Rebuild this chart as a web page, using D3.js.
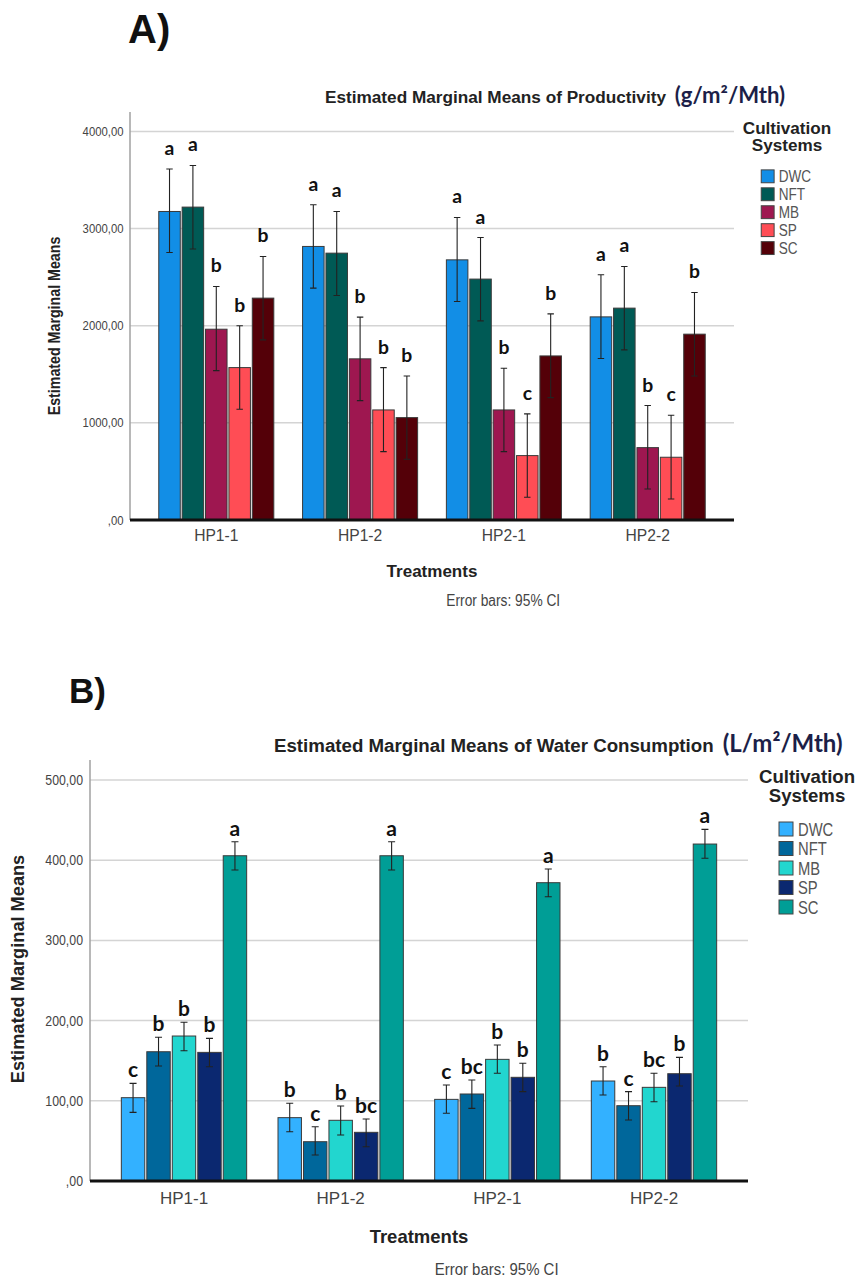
<!DOCTYPE html>
<html>
<head>
<meta charset="utf-8">
<script src="https://cdn.jsdelivr.net/npm/d3@7/dist/d3.min.js"></script>
<style>
  body { margin: 0; background: #fff; }
  svg { display: block; }
  text { font-family: "Liberation Sans", Arial, sans-serif; }
  .letter { font-family: Lato, "Open Sans", sans-serif; font-weight: 700; }
</style>
</head>
<body>
<svg id="chart" width="858" height="1279"></svg>
<script>
// treatments and systems
const treatments = ['HP1-1', 'HP1-2', 'HP2-1', 'HP2-2']
const systems = ['DWC', 'NFT', 'MB', 'SP', 'SC']

// A) productivity (g/m2/Mth), one array per system over treatments
const prodDWC = [3176, 2816, 2678, 2091]
const prodNFT = [3221, 2747, 2480, 2181]
const prodMB = [1964, 1659, 1133, 745]
const prodSP = [1569, 1133, 663, 646]
const prodSC = [2284, 1054, 1689, 1913]
// 95% CI upper / lower
const prodHi = [[3613, 3245, 3114, 2524], [3650, 3176, 2908, 2610], [2404, 2088, 1562, 1178], [1999, 1569, 1092, 1079], [2713, 1483, 2122, 2342]]
const prodLo = [[2754, 2387, 2249, 1662], [2789, 2311, 2050, 1751], [1538, 1229, 704, 319], [1140, 704, 234, 216], [1854, 625, 1260, 1483]]
const prodLetters = [['a', 'a', 'a', 'a'], ['a', 'a', 'a', 'a'], ['b', 'b', 'b', 'b'], ['b', 'b', 'c', 'c'], ['b', 'b', 'b', 'b']]
const prodTicks = [0, 1000, 2000, 3000, 4000]

// B) water consumption (L/m2/Mth)
const waterDWC = [103.9, 79, 101.8, 124.7]
const waterNFT = [161.2, 49, 108.5, 93.9]
const waterMB = [180.8, 75.7, 151.7, 116.8]
const waterSP = [160.4, 60.7, 129.3, 133.8]
const waterSC = [405.6, 405.6, 372, 420.2]
const waterHi = [[121.8, 96.9, 119.7, 142.5], [179.2, 67.7, 125.9, 111.4], [197.9, 93.5, 169.6, 134.3], [177.9, 77.3, 146.8, 154.2], [423, 423, 389, 438.5]]
const waterLo = [[85.6, 61.5, 84.4, 107.2], [143.4, 32.4, 90.6, 76.1], [162.5, 57.4, 134.3, 98.9], [142.5, 42.8, 111.4, 118.5], [387.8, 387.8, 354.5, 402.4]]
const waterLetters = [['c', 'b', 'c', 'b'], ['b', 'c', 'bc', 'c'], ['b', 'b', 'b', 'bc'], ['b', 'bc', 'b', 'b'], ['a', 'a', 'a', 'a']]
const waterTicks = [0, 100, 200, 300, 400, 500]

const svg = d3.select('#chart')

function fmt(v) {
  return v === 0 ? ',00' : v + ',00'
}

// squeeze a text horizontally (the original uses a narrow face)
function narrow(sel, f) {
  sel.each(function() {
    var w = this.getComputedTextLength()
    this.setAttribute('textLength', w * (f || 0.82))
    this.setAttribute('lengthAdjust', 'spacingAndGlyphs')
  })
}

function drawPanel(p) {
  var g = svg.append('g')
  var s = p.k // font scale of the panel

  var x0 = d3.scaleBand().domain(treatments).range([p.left, p.right]).paddingInner(0.2).paddingOuter(0.2)
  var x1 = d3.scaleBand().domain(systems).range([0, x0.bandwidth()]).paddingInner(0.08)
  var y = d3.scaleLinear().domain([0, p.max]).range([p.bottom, p.top])
  var color = d3.scaleOrdinal().domain(systems).range(p.colors)

  // panel letter
  g.append('text')
    .attr('x', p.tagX).attr('y', p.tagY)
    .attr('font-family', 'Lato, sans-serif')
    .attr('font-weight', 900)
    .attr('font-size', p.tagSize)
    .attr('fill', '#111')
    .text(p.tag)

  // title + unit
  var title = g.append('text')
    .attr('x', p.titleX).attr('y', p.titleY)
  title.append('tspan')
    .attr('font-weight', 'bold')
    .attr('font-size', 18.7 * s)
    .attr('fill', '#222')
    .text(p.title + ' ')
  title.append('tspan')
    .attr('dx', 4)
    .attr('font-family', 'Lato, sans-serif')
    .attr('font-weight', 700)
    .attr('font-size', 24 * s)
    .attr('fill', '#1c1f48')
    .text(p.unit)

  // grid
  g.append('g')
    .selectAll('line')
    .data(p.ticks.filter(function(t) { return t > 0 }))
    .enter()
    .append('line')
    .attr('x1', p.left).attr('x2', p.right)
    .attr('y1', function(d) { return y(d) }).attr('y2', function(d) { return y(d) })
    .attr('stroke', '#d4d4d4')
    .attr('stroke-width', 1.5)

  // y axis
  var yAxis = g.append('g')
    .attr('transform', 'translate(' + p.left + ',0)')
    .call(d3.axisLeft(y).tickValues(p.ticks).tickFormat(fmt).tickSize(0).tickPadding(7 * s))
  yAxis.select('.domain').remove()
  yAxis.selectAll('text')
    .attr('font-family', '"Liberation Sans", Arial, sans-serif')
    .attr('font-size', 14 * s)
    .attr('fill', '#444')
    .call(narrow, 0.88)
  g.append('line')
    .attr('x1', p.left).attr('x2', p.left)
    .attr('y1', p.top).attr('y2', p.bottom)
    .attr('stroke', '#a0a0a0')
    .attr('stroke-width', 1.5)

  // bars
  var groups = g.append('g')
    .selectAll('g')
    .data(treatments)
    .enter()
    .append('g')
    .attr('transform', function(d) { return 'translate(' + x0(d) + ',0)' })

  var cells = groups.selectAll('g')
    .data(function(t, ti) {
      return systems.map(function(sys, si) {
        return { sys: sys, v: p.values[si][ti], hi: p.hi[si][ti], lo: p.lo[si][ti], letter: p.letters[si][ti] }
      })
    })
    .enter()
    .append('g')

  cells.append('rect')
    .attr('x', function(d) { return x1(d.sys) })
    .attr('y', function(d) { return y(d.v) })
    .attr('width', x1.bandwidth())
    .attr('height', function(d) { return y(0) - y(d.v) })
    .attr('fill', function(d) { return color(d.sys) })
    .attr('stroke', '#3a3a3a')
    .attr('stroke-width', 1)

  var cap = 3.5 * s
  cells.append('path')
    .attr('d', function(d) {
      var cx = x1(d.sys) + x1.bandwidth() / 2
      return 'M' + cx + ',' + y(d.hi) + 'V' + y(d.lo) +
        'M' + (cx - cap) + ',' + y(d.hi) + 'H' + (cx + cap) +
        'M' + (cx - cap) + ',' + y(d.lo) + 'H' + (cx + cap)
    })
    .attr('fill', 'none')
    .attr('stroke', '#222')
    .attr('stroke-width', 1.1)

  cells.append('text')
    .attr('class', 'letter')
    .attr('x', function(d) { return x1(d.sys) + x1.bandwidth() / 2 })
    .attr('y', function(d) { return y(d.hi) - p.letterGap })
    .attr('text-anchor', 'middle')
    .attr('font-size', 21 * s)
    .attr('fill', '#111')
    .text(function(d) { return d.letter })

  // baseline
  g.append('line')
    .attr('x1', p.left).attr('x2', p.right)
    .attr('y1', y(0)).attr('y2', y(0))
    .attr('stroke', '#111')
    .attr('stroke-width', 3)

  // x labels
  g.append('g')
    .selectAll('text')
    .data(treatments)
    .enter()
    .append('text')
    .attr('x', function(d) { return x0(d) + x0.bandwidth() / 2 })
    .attr('y', y(0) + 23 * s)
    .attr('text-anchor', 'middle')
    .attr('font-size', 17 * s)
    .attr('fill', '#444')
    .text(function(d) { return d })

  var mid = (p.left + p.right) / 2
  g.append('text')
    .attr('x', mid).attr('y', y(0) + 62 * s)
    .attr('text-anchor', 'middle')
    .attr('font-weight', 'bold')
    .attr('font-size', 18.5 * s)
    .attr('fill', '#222')
    .text('Treatments')

  g.append('text')
    .attr('x', mid + 0.118 * (p.right - p.left)).attr('y', y(0) + 94 * s)
    .attr('text-anchor', 'middle')
    .attr('font-size', 17 * s)
    .attr('fill', '#444')
    .text('Error bars: 95% CI')
    .call(narrow, 0.88)

  // y label
  var yl = g.append('text')
    .attr('transform', 'translate(' + p.yLabelX + ',' + p.yLabelY + ') rotate(-90)')
    .attr('text-anchor', 'middle')
    .attr('font-weight', 'bold')
    .attr('font-size', 18.2 * s)
    .attr('fill', '#222')
    .text('Estimated Marginal Means')
  if (p.yNarrow) yl.call(narrow, 0.85)

  // legend
  var lg = g.append('g').attr('transform', 'translate(' + p.legX + ',' + p.legY + ')')
  lg.append('text')
    .attr('x', 0).attr('y', 0)
    .attr('text-anchor', 'middle')
    .attr('font-weight', 'bold')
    .attr('font-size', 18.6 * s)
    .attr('fill', '#222')
    .selectAll('tspan')
    .data(['Cultivation', 'Systems'])
    .enter()
    .append('tspan')
    .attr('x', 0)
    .attr('dy', function(d, i) { return i === 0 ? 0 : 19 * s })
    .text(function(d) { return d })

  var item = lg.selectAll('.item')
    .data(systems)
    .enter()
    .append('g')
    .attr('class', 'item')
    .attr('transform', function(d, i) { return 'translate(' + (-28 * s) + ',' + (46 * s + i * 19.5 * s) + ')' })
  item.append('rect')
    .attr('x', 0).attr('y', -7 * s)
    .attr('width', 14 * s).attr('height', 14 * s)
    .attr('fill', function(d) { return color(d) })
    .attr('stroke', '#444')
    .attr('stroke-width', 1)
  item.append('text')
    .attr('x', 19 * s).attr('y', 6.5 * s)
    .attr('font-size', 18 * s)
    .attr('fill', '#555')
    .text(function(d) { return d })
    .call(narrow)
}

drawPanel({
  k: 0.92,
  tag: 'A)', tagX: 128, tagY: 43, tagSize: 40,
  title: 'Estimated Marginal Means of Productivity', unit: '(g/m\u00b2/Mth)', titleX: 325, titleY: 103,
  left: 130, right: 734, top: 112, bottom: 520, max: 4200,
  ticks: prodTicks,
  values: [prodDWC, prodNFT, prodMB, prodSP, prodSC], hi: prodHi, lo: prodLo, letters: prodLetters,
  colors: ['#128ee6', '#005a55', '#9e1750', '#ff4d55', '#540008'],
  letterGap: 14,
  yLabelX: 60, yLabelY: 326, yNarrow: true,
  legX: 787, legY: 134
})

drawPanel({
  k: 1,
  tag: 'B)', tagX: 69, tagY: 703, tagSize: 35,
  title: 'Estimated Marginal Means of Water Consumption', unit: '(L/m\u00b2/Mth)', titleX: 274, titleY: 752,
  left: 90, right: 748, top: 760, bottom: 1181, max: 525,
  ticks: waterTicks,
  values: [waterDWC, waterNFT, waterMB, waterSP, waterSC], hi: waterHi, lo: waterLo, letters: waterLetters,
  colors: ['#33b1ff', '#00679b', '#22d6cf', '#0b2870', '#009e96'],
  letterGap: 6,
  yLabelX: 24, yLabelY: 969, yNarrow: false,
  legX: 807, legY: 783
})
</script>
</body>
</html>
